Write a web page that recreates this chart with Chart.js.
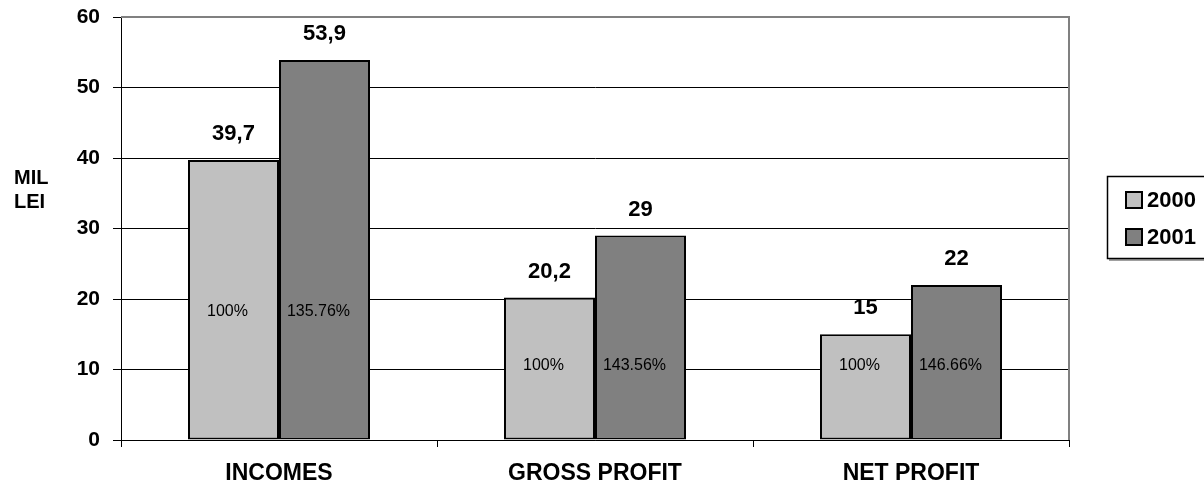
<!DOCTYPE html>
<html>
<head>
    <meta charset="UTF-8" />
    <title>Incomes and profit 2000 / 2001</title>
    <script src="https://cdn.jsdelivr.net/npm/chart.js"></script>
    <style>
        body { margin: 0; background: #fff; }
    </style>
</head>
<body>
    <canvas id="profitChart" width="1204" height="491"></canvas>

    <script>
        // data
        const categories = ['INCOMES', 'GROSS PROFIT', 'NET PROFIT'];
        const years = ['2000', '2001'];
        const values2000 = [39.7, 20.2, 15];
        const values2001 = [53.9, 29, 22];
        const percent2000 = ['100%', '100%', '100%'];
        const percent2001 = ['135.76%', '143.56%', '146.66%'];
        const yTicks = [0, 10, 20, 30, 40, 50, 60];
        const axisTitle = ['MIL', 'LEI'];

        // height (in axis units) where the percent labels sit in each group
        const percentLevel = [18.2, 10.6, 10.6];

        const FONT = '"Liberation Sans", Arial, sans-serif';

        // value labels above bars + percent labels inside bars
        const barLabels = {
            id: 'barLabels',
            afterDatasetsDraw(chart) {
                const ctx = chart.ctx;
                const yScale = chart.scales.y;
                const pcts = [percent2000, percent2001];
                ctx.save();
                ctx.fillStyle = '#000';
                ctx.textAlign = 'center';
                ctx.textBaseline = 'middle';
                chart.data.datasets.forEach((ds, di) => {
                    const meta = chart.getDatasetMeta(di);
                    meta.data.forEach((bar, i) => {
                        ctx.font = 'bold 22px ' + FONT;
                        ctx.fillText(String(ds.data[i]).replace('.', ','), bar.x, bar.y - 26);
                        ctx.font = '16px ' + FONT;
                        ctx.fillText(pcts[di][i], bar.x - 6, yScale.getPixelForValue(percentLevel[i]));
                    });
                });
                ctx.restore();
            }
        };

        // grey top/right frame, axis title and the boxed legend
        const decorations = {
            id: 'decorations',
            beforeDatasetsDraw(chart) {
                const { ctx, chartArea } = chart;
                ctx.save();
                ctx.strokeStyle = '#808080';
                ctx.lineWidth = 2;
                ctx.beginPath();
                ctx.moveTo(chartArea.left, chartArea.top);
                ctx.lineTo(chartArea.right, chartArea.top);
                ctx.lineTo(chartArea.right, chartArea.bottom);
                ctx.stroke();
                ctx.restore();
            },
            afterDraw(chart) {
                const ctx = chart.ctx;
                ctx.save();
                // axis title
                ctx.fillStyle = '#000';
                ctx.font = 'bold 20px ' + FONT;
                ctx.textAlign = 'left';
                ctx.textBaseline = 'middle';
                axisTitle.forEach((t, i) => ctx.fillText(t, 14, 178 + i * 24));

                // legend box
                ctx.fillStyle = '#a0a0a0';
                ctx.fillRect(1109, 259, 100, 2);
                ctx.strokeStyle = '#000';
                ctx.lineWidth = 1.5;
                ctx.fillStyle = '#fff';
                ctx.fillRect(1107.5, 176.5, 100, 82);
                ctx.strokeRect(1107.5, 176.5, 100, 82);
                chart.data.datasets.forEach((ds, i) => {
                    const y = 200 + i * 37;
                    ctx.fillStyle = ds.backgroundColor;
                    ctx.fillRect(1126, y - 8, 16, 16);
                    ctx.lineWidth = 2;
                    ctx.strokeRect(1126, y - 8, 16, 16);
                    ctx.fillStyle = '#000';
                    ctx.font = 'bold 22px ' + FONT;
                    ctx.fillText(ds.label, 1147, y + 1);
                });
                ctx.restore();
            }
        };

        const ctx = document.getElementById('profitChart').getContext('2d');
        new Chart(ctx, {
            type: 'bar',
            data: {
                labels: categories,
                datasets: [{
                    label: years[0],
                    data: values2000,
                    backgroundColor: '#c0c0c0',
                    borderColor: '#000',
                    borderWidth: 2,
                    borderSkipped: false
                }, {
                    label: years[1],
                    data: values2001,
                    backgroundColor: '#808080',
                    borderColor: '#000',
                    borderWidth: 2,
                    borderSkipped: false
                }]
            },
            options: {
                responsive: false,
                animation: false,
                categoryPercentage: 0.576,
                barPercentage: 1,
                layout: { padding: { top: 17, right: 135, left: 0, bottom: 0 } },
                plugins: {
                    legend: { display: false },
                    tooltip: { enabled: false }
                },
                scales: {
                    x: {
                        grid: {
                            offset: true,
                            drawOnChartArea: false,
                            tickLength: 7,
                            tickColor: '#000'
                        },
                        border: { color: '#000', width: 1 },
                        ticks: {
                            color: '#000',
                            font: { family: FONT, size: 23, weight: 'bold' },
                            padding: 13,
                            maxRotation: 0
                        },
                        afterFit(scale) {
                            scale.height = 51;
                            scale.paddingLeft = 0;
                            scale.paddingRight = 0;
                        }
                    },
                    y: {
                        min: yTicks[0],
                        max: yTicks[yTicks.length - 1],
                        afterBuildTicks(scale) { scale.ticks = yTicks.map(v => ({ value: v })); },
                        grid: {
                            color: c => (c.tick && c.tick.value === 60) ? 'rgba(0,0,0,0)' : '#000',
                            lineWidth: 1,
                            tickLength: 8,
                            tickColor: '#000'
                        },
                        border: { color: '#000', width: 1 },
                        ticks: {
                            color: '#000',
                            font: { family: FONT, size: 21, weight: 'bold' },
                            padding: 13
                        },
                        afterFit(scale) {
                            scale.width = 121;
                            scale.paddingTop = 0;
                            scale.paddingBottom = 0;
                        }
                    }
                }
            },
            plugins: [decorations, barLabels]
        });
    </script>
</body>
</html>
